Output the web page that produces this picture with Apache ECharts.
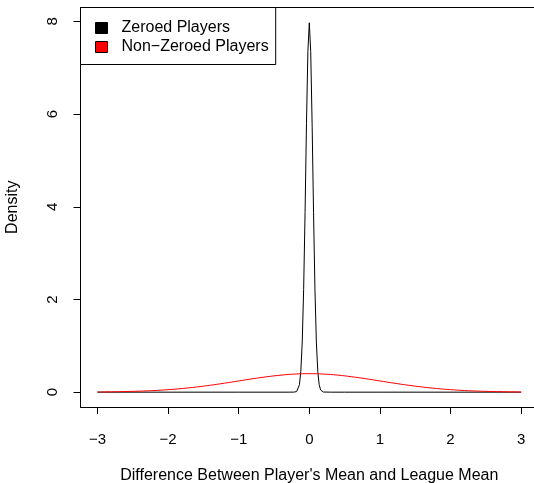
<!DOCTYPE html>
<html>
<head>
<meta charset="utf-8">
<script src="https://cdn.jsdelivr.net/npm/echarts@6/dist/echarts.min.js"></script>
<style>
  html, body { margin: 0; padding: 0; background: #fff; }
  #chart { width: 534px; height: 483px; }
</style>
</head>
<body>
<div id="chart"></div>
<script>
// Density of the player-vs-league difference, zeroed players (narrow peak)
const zeroedX = [-3, -1, -0.5, -0.3, -0.22, -0.2, -0.18, -0.16, -0.14, -0.12, -0.1, -0.08, -0.06, -0.04, -0.02,
                 0, 0.02, 0.04, 0.06, 0.08, 0.1, 0.12, 0.14, 0.16, 0.18, 0.2, 0.22, 0.3, 0.5, 1, 3];
const zeroedY = [0, 0, 0, 0, 0.001, 0.003, 0.012, 0.047, 0.16, 0.45, 1.08, 2.22, 3.88, 5.79, 7.35,
                 7.97, 7.35, 5.79, 3.88, 2.22, 1.08, 0.45, 0.16, 0.047, 0.012, 0.003, 0.001, 0, 0, 0, 0];

// Non-zeroed players (wide bell)
const nonZeroedX = [-3, -2.8, -2.6, -2.4, -2.2, -2, -1.8, -1.6, -1.4, -1.2, -1, -0.8, -0.6, -0.4, -0.2,
                    0, 0.2, 0.4, 0.6, 0.8, 1, 1.2, 1.4, 1.6, 1.8, 2, 2.2, 2.4, 2.6, 2.8, 3];
const nonZeroedY = [0.004, 0.008, 0.014, 0.022, 0.035, 0.054, 0.079, 0.111, 0.150, 0.194, 0.242, 0.290, 0.333, 0.368, 0.391,
                    0.399, 0.391, 0.368, 0.333, 0.290, 0.242, 0.194, 0.150, 0.111, 0.079, 0.054, 0.035, 0.022, 0.014, 0.008, 0.004];

const xTicks = [-3, -2, -1, 0, 1, 2, 3];
const yTicks = [0, 2, 4, 6, 8];
const seriesNames = ['Zeroed Players', 'Non\u2212Zeroed Players'];
const seriesColors = ['#000000', '#ff0000'];

const pairs = (xs, ys) => xs.map((x, i) => [x, ys[i]]);
const FONT = '"Liberation Sans", Arial, Helvetica, sans-serif';
const frame = { show: true, onZero: false, lineStyle: { color: '#000', width: 1 } };

const chart = echarts.init(document.getElementById('chart'), null, { renderer: 'canvas' });

chart.setOption({
  animation: false,
  backgroundColor: '#ffffff',
  textStyle: { fontFamily: FONT, color: '#000' },
  grid: {
    left: 80.5, top: 7.5, width: 457.6, height: 399.5,
    show: false, containLabel: false, outerBoundsMode: 'none'
  },
  xAxis: [
    {
      type: 'value',
      position: 'bottom',
      min: -3.24, max: 3.24,
      name: "Difference Between Player's Mean and League Mean",
      nameLocation: 'middle', nameGap: 61,
      nameTextStyle: { fontSize: 16, color: '#000', fontFamily: FONT },
      axisLine: frame,
      axisTick: { show: true, inside: false, length: 7, customValues: xTicks, lineStyle: { color: '#000', width: 1 } },
      axisLabel: { show: true, customValues: xTicks, margin: 25, fontSize: 15, color: '#000', fontFamily: FONT,
                   formatter: v => String(v).replace('-', '\u2212') },
      splitLine: { show: false }
    },
    {
      // top edge of the plot frame
      type: 'value',
      position: 'top',
      min: -3.24, max: 3.24,
      axisLine: frame,
      axisTick: { show: false },
      axisLabel: { show: false },
      splitLine: { show: false }
    }
  ],
  yAxis: {
    type: 'value',
    min: -0.32, max: 8.30,
    name: 'Density',
    nameLocation: 'middle', nameGap: 60, nameRotate: 90,
    nameTextStyle: { fontSize: 16, color: '#000', fontFamily: FONT },
    axisLine: frame,
    axisTick: { show: true, inside: false, length: 7, customValues: yTicks, lineStyle: { color: '#000', width: 1 } },
    axisLabel: { show: true, customValues: yTicks, rotate: 90, margin: 20, fontSize: 15, color: '#000', fontFamily: FONT },
    splitLine: { show: false }
  },
  legend: {
    orient: 'vertical',
    left: 80.5, top: 7.5,
    padding: [12.5, 7, 9.5, 14.5],
    itemGap: 3,
    itemWidth: 12, itemHeight: 11,
    backgroundColor: '#fff',
    borderColor: '#000', borderWidth: 1, borderRadius: 0,
    textStyle: { fontSize: 16, color: '#000', fontFamily: FONT, padding: [0, 0, 0, 9] },
    data: seriesNames.map((n, i) => ({
      name: n, icon: 'rect',
      itemStyle: { color: seriesColors[i], borderColor: '#000', borderWidth: 1 }
    }))
  },
  series: [
    {
      name: seriesNames[0], type: 'line', data: pairs(zeroedX, zeroedY),
      showSymbol: false, smooth: false,
      lineStyle: { color: seriesColors[0], width: 1 }, itemStyle: { color: seriesColors[0] }
    },
    {
      name: seriesNames[1], type: 'line', data: pairs(nonZeroedX, nonZeroedY),
      showSymbol: false, smooth: 0.4,
      lineStyle: { color: seriesColors[1], width: 1 }, itemStyle: { color: seriesColors[1] }
    }
  ]
});
</script>
</body>
</html>
